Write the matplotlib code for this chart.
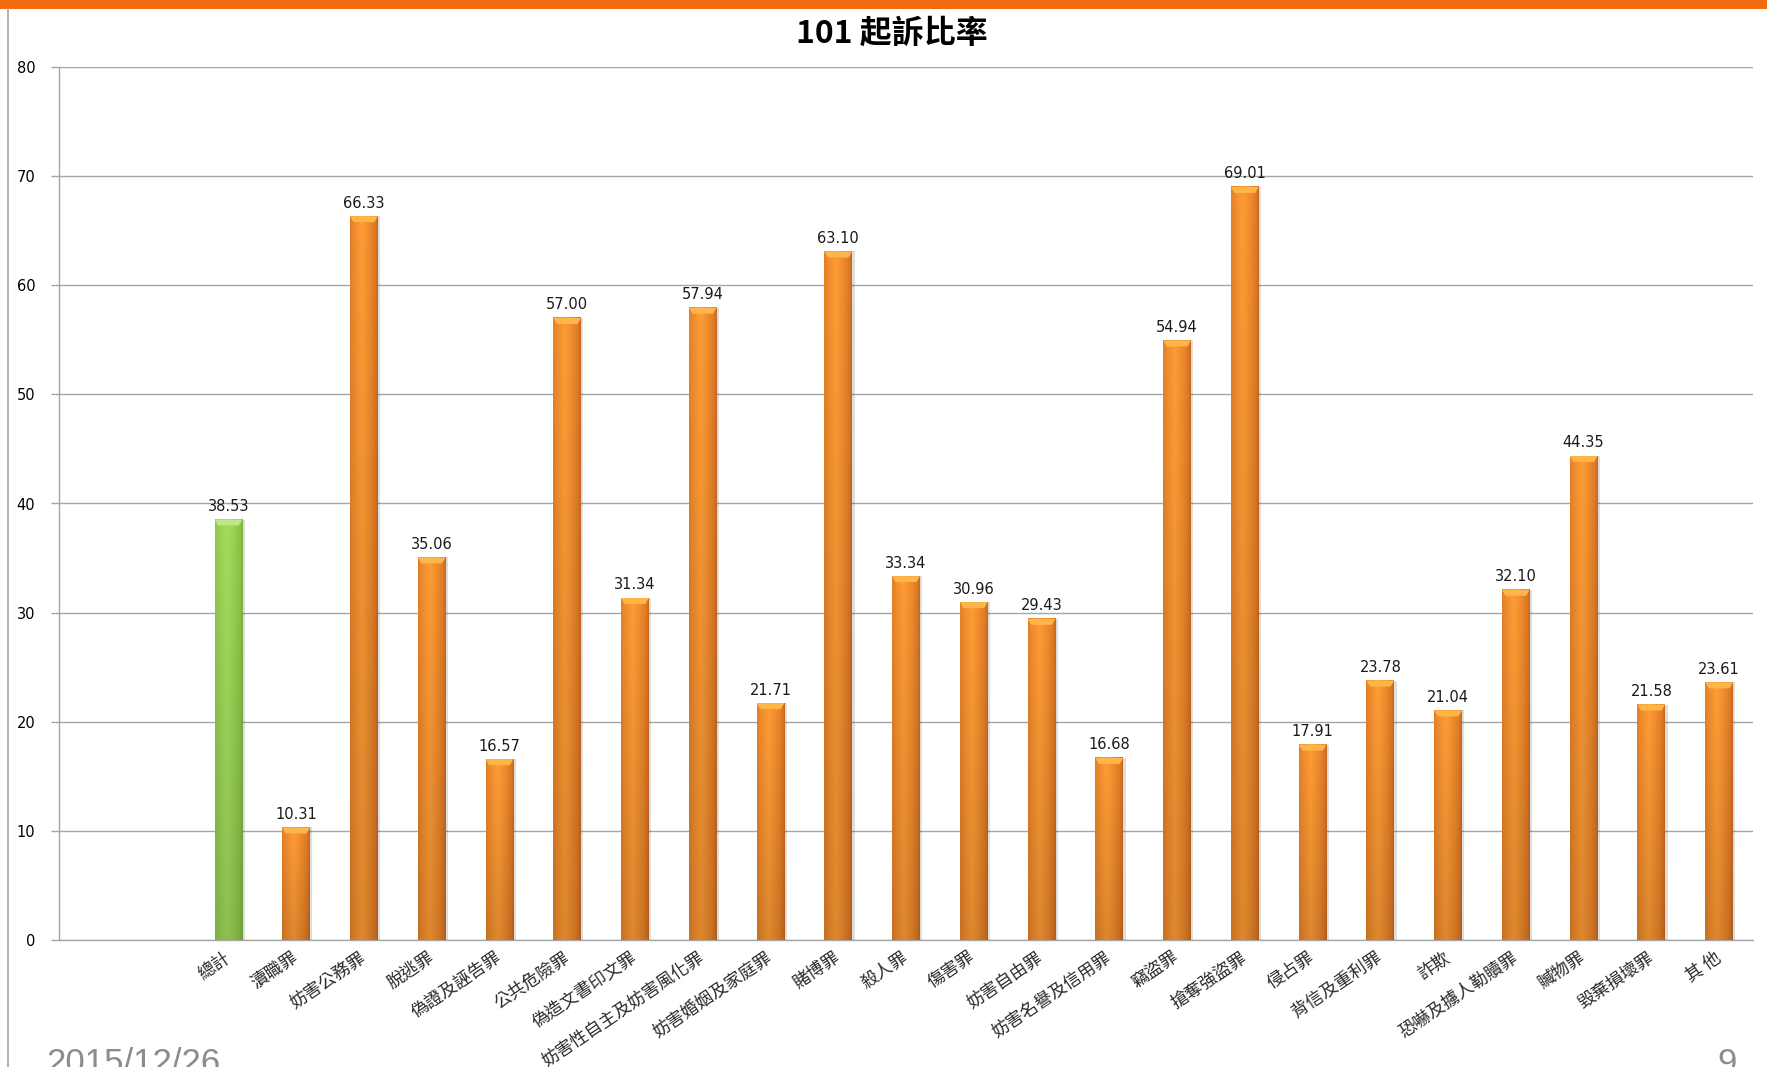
import numpy as np
import matplotlib.pyplot as plt
import matplotlib.colors as mcolors
from matplotlib.patches import Polygon, Rectangle
from matplotlib.lines import Line2D

plt.rcParams['font.family'] = ['Noto Sans CJK TC', 'DejaVu Sans']

# chart data
title = '101 起訴比率'
categories = ['總計', '瀆職罪', '妨害公務罪', '脫逃罪', '偽證及誣告罪', '公共危險罪',
              '偽造文書印文罪', '妨害性自主及妨害風化罪', '妨害婚姻及家庭罪', '賭博罪',
              '殺人罪', '傷害罪', '妨害自由罪', '妨害名譽及信用罪', '竊盜罪', '搶奪強盜罪',
              '侵占罪', '背信及重利罪', '詐欺', '恐嚇及擄人勒贖罪', '贓物罪', '毀棄損壞罪', '其 他']
rates = [38.53, 10.31, 66.33, 35.06, 16.57, 57.00, 31.34, 57.94, 21.71, 63.10,
         33.34, 30.96, 29.43, 16.68, 54.94, 69.01, 17.91, 23.78, 21.04, 32.10,
         44.35, 21.58, 23.61]
highlight = '總計'
yticks = [0, 10, 20, 30, 40, 50, 60, 70, 80]
footer_date = '2015/12/26'
page_no = '9'


def bar_gradient(edge, mid, nx=48, ny=120):
    # horizontal shading (dark edges, bright left-centre), slightly darker toward the base
    edge = np.array(mcolors.to_rgb(edge))
    mid = np.array(mcolors.to_rgb(mid))
    t = np.linspace(0, 1, nx)
    prof = np.clip(1 - np.abs(t - 0.42) / 0.58, 0, 1) ** 0.55
    row = edge[None, :] + (mid - edge)[None, :] * prof[:, None]
    v = np.linspace(1.0, 0.87, ny)
    return np.clip(row[None, :, :] * v[:, None, None], 0, 1)


orange_img = bar_gradient('#C8651C', '#FF9C35')
green_img = bar_gradient('#7CB23E', '#A3DD5C')

W, H = 1767, 1067
fig = plt.figure(figsize=(W / 100, H / 100), dpi=100)
ax = fig.add_axes([59 / W, 127 / H, (1753 - 59) / W, (1000 - 127) / H])

bar_w = 0.41
cap_h = 0.55
for i, (cat, val) in enumerate(zip(categories, rates)):
    is_total = cat == highlight
    img = green_img if is_total else orange_img
    cap_col = '#BDE985' if is_total else '#FFB548'
    left, right = i - bar_w / 2, i + bar_w / 2
    # soft shadow
    ax.add_patch(Rectangle((left + 0.035, 0), bar_w, val, color='black', alpha=0.13,
                           lw=0, zorder=2))
    ax.imshow(img, extent=(left, right, 0, val), aspect='auto', interpolation='bilinear',
              zorder=3)
    inset = bar_w * 0.13
    ax.add_patch(Polygon([(left, val), (right, val), (right - inset, val - cap_h),
                          (left + inset, val - cap_h)], closed=True, color=cap_col,
                         lw=0, zorder=4))
    ax.annotate(f'{val:.2f}', (i, val), xytext=(0, 4), textcoords='offset points',
                ha='center', va='bottom', fontsize=10.5, family='DejaVu Sans',
                color='#1A1A1A', zorder=5)

ax.set_xlim(-2.5, len(categories) - 0.5)
ax.set_ylim(yticks[0], yticks[-1])
ax.set_yticks(yticks)
ax.set_yticklabels([str(t) for t in yticks], family='DejaVu Sans', fontsize=10.5)
ax.set_xticks(range(len(categories)))
ax.set_xticklabels(categories, rotation=34, ha='right', va='center',
                   rotation_mode='anchor', fontsize=12.5, color='#2A2A2A',
                   fontweight='light')
ax.tick_params(axis='x', length=0, pad=11.5)
ax.tick_params(axis='y', length=6, width=1, color='#A6A6A6', pad=11)

ax.yaxis.grid(True, color='#A6A6A6', lw=1)
ax.set_axisbelow(True)
for side in ['top', 'right']:
    ax.spines[side].set_visible(False)
for side in ['left', 'bottom']:
    ax.spines[side].set_color('#A6A6A6')
    ax.spines[side].set_linewidth(1)

fig.text(0.505, 1 - 34 / H, title, ha='center', va='center', fontsize=23,
         fontweight='bold')

# slide decorations
fig.add_artist(Rectangle((0, 1 - 9 / H), 1, 9 / H, transform=fig.transFigure,
                         color='#F26C0E', lw=0))
fig.add_artist(Line2D([8 / W, 8 / W], [0, 1 - 9 / H], transform=fig.transFigure,
                      color='#A6A6A6', lw=1.2))
fig.text(46 / W, 1 - 1047 / H, footer_date, family='Liberation Sans', fontsize=25,
         color='#8C8C8C', va='top', ha='left')
fig.text(1727 / W, 1 - 1047 / H, page_no, family='Liberation Sans', fontsize=25,
         color='#8C8C8C', va='top', ha='center')

fig.savefig('out.png', dpi=100)
